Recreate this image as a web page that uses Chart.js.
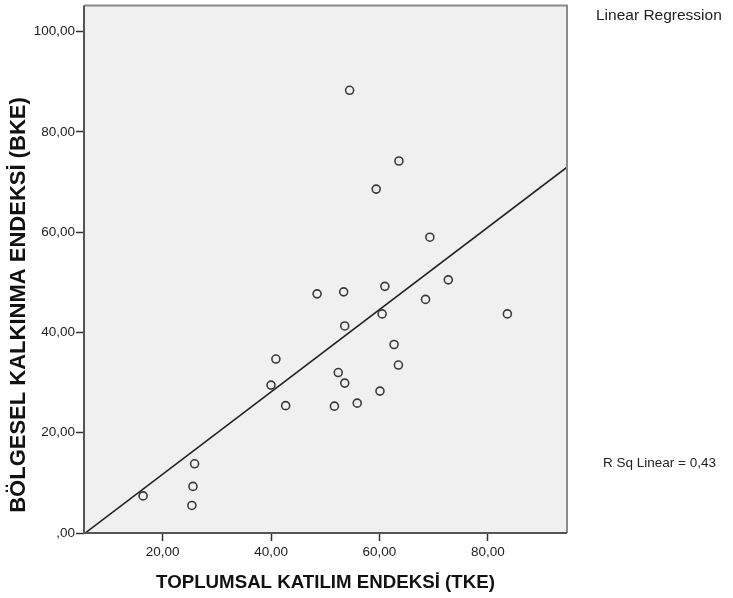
<!DOCTYPE html>
<html>
<head>
<meta charset="utf-8">
<script src="https://cdn.jsdelivr.net/npm/chart.js@4.4.1/dist/chart.umd.min.js"></script>
<style>
  html, body { margin: 0; padding: 0; background: #fff; }
  #wrap { position: relative; width: 733px; height: 598px; }
  .note { position: absolute; font-family: "Liberation Sans", Arial, sans-serif; color: #222; white-space: nowrap; }
</style>
</head>
<body>
<div id="wrap">
  <canvas id="scatterCanvas" width="733" height="598"></canvas>
  <div class="note" style="left:596px; top:6px; font-size:15.5px;">Linear Regression</div>
  <div class="note" style="left:603px; top:455px; font-size:13.5px;">R Sq Linear = 0,43</div>
</div>
<script>
// TKE (x) ve BKE (y) degerleri
const tkeValues = [16.4, 25.9, 25.6, 25.4, 42.7, 51.7, 55.9, 60.1, 53.6, 52.4, 40.0, 40.9, 63.5,
                   62.7, 53.6, 60.5, 83.6, 48.5, 53.4, 61.0, 72.7, 68.5, 69.3, 59.4, 63.6, 54.5];
const bkeValues = [7.4, 13.8, 9.3, 5.5, 25.4, 25.3, 25.9, 28.3, 29.9, 32.0, 29.5, 34.7, 33.5,
                   37.6, 41.3, 43.7, 43.7, 47.7, 48.1, 49.2, 50.5, 46.6, 59.0, 68.6, 74.2, 88.3];

const xTicks = [20, 40, 60, 80];
const xTickLabels = ['20,00', '40,00', '60,00', '80,00'];
const yTicks = [0, 20, 40, 60, 80, 100];
const yTickLabels = [',00', '20,00', '40,00', '60,00', '80,00', '100,00'];

const xRange = [5.5, 94.6];
const yRange = [0, 105.2];

const yTitle = 'BÖLGESEL KALKINMA ENDEKSİ (BKE)';
const xTitle = 'TOPLUMSAL KATILIM ENDEKSİ (TKE)';

// least squares fit from the data
function linearFit(xs, ys) {
    const n = xs.length;
    const mx = xs.reduce((a, b) => a + b, 0) / n;
    const my = ys.reduce((a, b) => a + b, 0) / n;
    let sxy = 0, sxx = 0;
    for (let i = 0; i < n; i++) {
        sxy += (xs[i] - mx) * (ys[i] - my);
        sxx += (xs[i] - mx) * (xs[i] - mx);
    }
    const slope = sxy / sxx;
    return { slope, intercept: my - slope * mx };
}

const fit = linearFit(tkeValues, bkeValues);
const fitLine = xRange.map(x => ({ x, y: fit.intercept + fit.slope * x }));

const frame = {
    id: 'frame',
    beforeDatasetsDraw(chart) {
        const { ctx, chartArea: a } = chart;
        ctx.save();
        ctx.fillStyle = '#f0f0f0';
        ctx.fillRect(a.left, a.top, a.right - a.left, a.bottom - a.top);
        ctx.restore();
    },
    afterDraw(chart) {
        const { ctx, chartArea: a } = chart;
        ctx.save();
        ctx.lineWidth = 2;
        ctx.strokeStyle = '#8a8a8a';
        ctx.beginPath();
        ctx.moveTo(a.left, a.top);
        ctx.lineTo(a.right, a.top);
        ctx.lineTo(a.right, a.bottom);
        ctx.stroke();
        ctx.strokeStyle = '#555';
        ctx.beginPath();
        ctx.moveTo(a.left, a.top);
        ctx.lineTo(a.left, a.bottom);
        ctx.lineTo(a.right, a.bottom);
        ctx.stroke();

        // y ekseni basligi
        ctx.translate(19, 305);
        ctx.rotate(-Math.PI / 2);
        ctx.fillStyle = '#111';
        ctx.font = 'bold 22px "Liberation Sans", Arial, sans-serif';
        ctx.textAlign = 'center';
        ctx.textBaseline = 'middle';
        ctx.fillText(yTitle, 0, 0);
        ctx.restore();
    }
};

const tickFont = { family: '"Liberation Sans", Arial, sans-serif', size: 13.5 };

new Chart(document.getElementById('scatterCanvas'), {
    type: 'scatter',
    data: {
        datasets: [{
            label: 'BKE',
            data: tkeValues.map((x, i) => ({ x, y: bkeValues[i] })),
            pointRadius: 4,
            pointHoverRadius: 4,
            pointBorderWidth: 1.6,
            borderColor: '#3a3a3a',
            backgroundColor: 'rgba(0,0,0,0)'
        }, {
            label: 'Linear Regression',
            data: fitLine,
            showLine: true,
            pointRadius: 0,
            borderColor: '#222',
            borderWidth: 1.6
        }]
    },
    options: {
        responsive: false,
        animation: false,
        layout: { padding: { left: 0, top: 4, right: 166, bottom: 0 } },
        plugins: {
            legend: { display: false },
            tooltip: { enabled: false }
        },
        scales: {
            x: {
                type: 'linear',
                min: xRange[0],
                max: xRange[1],
                afterBuildTicks: s => { s.ticks = xTicks.map(v => ({ value: v })); },
                afterFit: s => { s.height = 65; s.paddingLeft = 0; s.paddingRight = 0; },
                grid: { drawOnChartArea: false, tickLength: 8, tickColor: '#333', tickWidth: 1.5 },
                border: { display: false },
                ticks: {
                    padding: 3,
                    color: '#222',
                    font: tickFont,
                    maxRotation: 0,
                    callback: (v, i) => xTickLabels[i]
                },
                title: {
                    display: true,
                    text: xTitle,
                    color: '#111',
                    font: { family: '"Liberation Sans", Arial, sans-serif', size: 18.7, weight: 'bold' },
                    padding: { top: 0, bottom: 4 }
                }
            },
            y: {
                type: 'linear',
                min: yRange[0],
                max: yRange[1],
                afterBuildTicks: s => { s.ticks = yTicks.map(v => ({ value: v })); },
                afterFit: s => { s.width = 84; s.paddingTop = 0; s.paddingBottom = 0; },
                grid: { drawOnChartArea: false, tickLength: 8, tickColor: '#333', tickWidth: 1.5 },
                border: { display: false },
                ticks: {
                    padding: 1,
                    color: '#222',
                    font: tickFont,
                    callback: (v, i) => yTickLabels[i]
                },
                title: { display: false }
            }
        }
    },
    plugins: [frame]
});
</script>
</body>
</html>
